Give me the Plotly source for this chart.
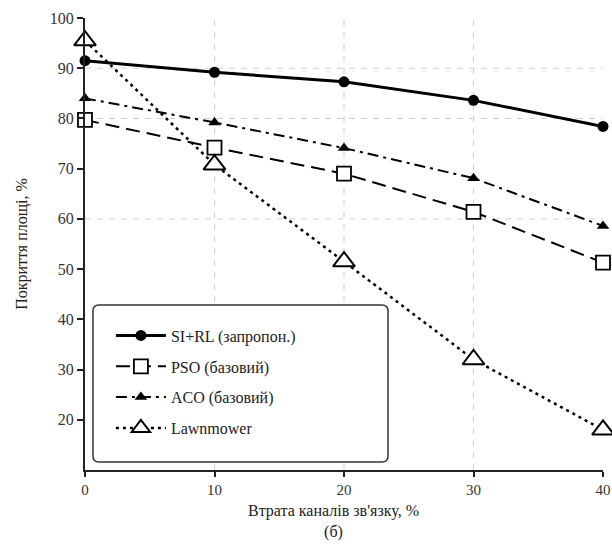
import plotly.graph_objects as go

x_loss = [0, 10, 20, 30, 40]
si_rl = [91.5, 89.2, 87.3, 83.6, 78.4]
pso = [79.7, 74.2, 69.0, 61.4, 51.3]
aco = [84.0, 79.2, 74.1, 68.1, 58.6]
lawnmower = [95.5, 70.8, 51.5, 32.0, 18.0]

names = ["SI+RL (запропон.)", "PSO (базовий)", "ACO (базовий)", "Lawnmower"]
x_ticks = [0, 10, 20, 30, 40]
y_ticks = [20, 30, 40, 50, 60, 70, 80, 90, 100]
grid_x = [10, 20, 30]
grid_y = [60, 80, 90]
x_title = "Втрата каналів зв'язку, %<br>(б)"
y_title = "Покриття площі, %"

FONT = "'Times New Roman', 'Liberation Serif', Times, serif"
FS = 16

fig = go.Figure()
fig.add_trace(go.Scatter(x=x_loss, y=si_rl, name=names[0], mode="lines+markers",
                         line=dict(color="black", width=3),
                         marker=dict(symbol="circle", size=11, color="black"),
                         legendgroup="a", cliponaxis=False))
fig.add_trace(go.Scatter(x=x_loss, y=pso, name=names[1], mode="lines+markers",
                         line=dict(color="black", width=2, dash="14px,7px"),
                         marker=dict(symbol="square", size=14, color="white",
                                     line=dict(color="black", width=1.8)),
                         legendgroup="b", cliponaxis=False))
fig.add_trace(go.Scatter(x=x_loss, y=aco, name=names[2], mode="lines+markers",
                         line=dict(color="black", width=2, dash="11px,5px,3px,5px"),
                         marker=dict(symbol="triangle-up", size=11, color="black"),
                         legendgroup="c", cliponaxis=False))
fig.add_trace(go.Scatter(x=x_loss, y=lawnmower, name=names[3], mode="lines+markers",
                         line=dict(color="black", width=2.5, dash="3px,4px"),
                         marker=dict(symbol="triangle-up", size=19, color="white",
                                     line=dict(color="black", width=2)),
                         legendgroup="d", cliponaxis=False))

shapes = []
for gx in grid_x:
    shapes.append(dict(type="line", xref="x", yref="paper", x0=gx, x1=gx, y0=0, y1=1,
                       line=dict(color="#cfcfcf", width=1, dash="6px,6px"), layer="below"))
for gy in grid_y:
    shapes.append(dict(type="line", xref="paper", yref="y", x0=0, x1=1, y0=gy, y1=gy,
                       line=dict(color="#cfcfcf", width=1, dash="6px,6px"), layer="below"))

# rounded legend frame (paper coordinates)
lx0, lx1, ly0, ly1 = 0.0154, 0.585, 0.0177, 0.365
rx, ry = 0.0116, 0.0133
path = (f"M {lx0+rx},{ly0} L {lx1-rx},{ly0} Q {lx1},{ly0} {lx1},{ly0+ry} "
        f"L {lx1},{ly1-ry} Q {lx1},{ly1} {lx1-rx},{ly1} "
        f"L {lx0+rx},{ly1} Q {lx0},{ly1} {lx0},{ly1-ry} "
        f"L {lx0},{ly0+ry} Q {lx0},{ly0} {lx0+rx},{ly0} Z")
shapes.append(dict(type="path", xref="paper", yref="paper", path=path,
                   line=dict(color="#333333", width=1.5), fillcolor="white", layer="above"))

fig.update_layout(
    width=612, height=545,
    margin=dict(l=85, r=9, t=18, b=75),
    paper_bgcolor="white", plot_bgcolor="white",
    font=dict(family=FONT, size=FS, color="#222222"),
    shapes=shapes,
    showlegend=True,
    legend=dict(x=0.05, y=0.335, xanchor="left", yanchor="top",
                bgcolor="rgba(0,0,0,0)", borderwidth=0,
                font=dict(family=FONT, size=FS, color="#222222"),
                traceorder="grouped", tracegroupgap=7, itemwidth=50),
    annotations=[dict(text=x_title, xref="paper", yref="paper", x=0.48, y=-0.114,
                      xanchor="center", yanchor="middle", showarrow=False,
                      font=dict(family=FONT, size=FS, color="#222222"))],
    xaxis=dict(range=[0, 40], tickvals=x_ticks, showgrid=False, zeroline=False,
               automargin=False,
               showline=True, linecolor="#222222", linewidth=2,
               ticks="outside", ticklen=5, tickwidth=1.5, tickcolor="#222222",
               tickfont=dict(family=FONT, size=15, color="#333333")),
    yaxis=dict(range=[10, 100], tickvals=y_ticks, showgrid=False, zeroline=False,
               automargin=False,
               showline=True, linecolor="#222222", linewidth=2,
               ticks="outside", ticklen=6, tickwidth=1.5, tickcolor="#222222",
               tickfont=dict(family=FONT, size=FS, color="#333333"),
               title=dict(text=y_title,
                          font=dict(family=FONT, size=FS, color="#222222"), standoff=18)),
)

fig.write_html("out.html")
